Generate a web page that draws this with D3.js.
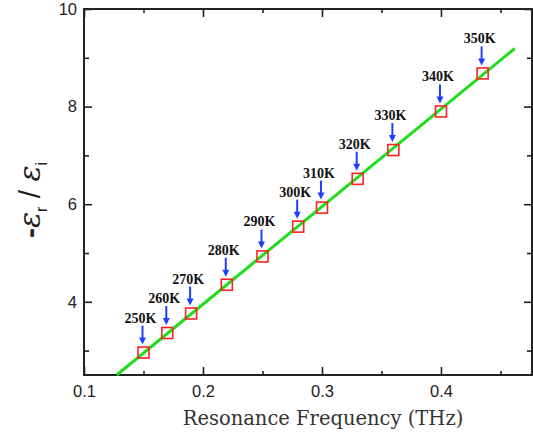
<!DOCTYPE html>
<html>
<head>
<meta charset="utf-8">
<script src="https://cdn.jsdelivr.net/npm/d3@7"></script>
<style>
  body { margin: 0; background: #fff; }
  svg { display: block; }
</style>
</head>
<body>
<div id="chart"></div>
<script>
// data
const temps = ["250K", "260K", "270K", "280K", "290K", "300K", "310K", "320K", "330K", "340K", "350K"];
const freq = [0.15, 0.17, 0.19, 0.22, 0.25, 0.28, 0.30, 0.33, 0.36, 0.40, 0.435];
const ratio = [2.96, 3.36, 3.76, 4.35, 4.93, 5.54, 5.93, 6.52, 7.11, 7.90, 8.68];
// linear fit line end points
const fitX = [0.1275, 0.462];
const fitY = [2.5, 9.19];

const xMajor = [0.1, 0.2, 0.3, 0.4];
const xMinor = [0.15, 0.25, 0.35, 0.45];
const yMajor = [4, 6, 8, 10];
const yMinor = [3, 5, 7, 9];

const width = 533;
const height = 438;
const margin = {left: 84, right: 1, top: 9, bottom: 63};

const svg = d3.select("#chart")
  .append("svg")
  .attr("width", width)
  .attr("height", height);

const x = d3.scaleLinear()
  .domain([0.1, 0.4765])
  .range([margin.left, width - margin.right]);

const y = d3.scaleLinear()
  .domain([2.5, 10])
  .range([height - margin.bottom, margin.top]);

const fontAxis = "'Liberation Sans', Arial, sans-serif";

// axes (ticks point inward)
function styleAxis(g) {
  g.select(".domain").remove();
  g.selectAll("line").attr("stroke", "#222").attr("stroke-width", 1.6);
  g.selectAll("text").attr("font-family", fontAxis).attr("font-size", 16.5).attr("fill", "#222");
}

svg.append("g")
  .attr("transform", `translate(0,${y.range()[0]})`)
  .call(d3.axisBottom(x).tickValues(xMajor).tickSize(-8).tickPadding(10).tickFormat(d3.format(".1f")))
  .call(styleAxis);
svg.append("g")
  .attr("transform", `translate(0,${y.range()[0]})`)
  .call(d3.axisBottom(x).tickValues(xMinor).tickSize(-4).tickFormat(""))
  .call(styleAxis);
svg.append("g")
  .attr("transform", `translate(0,${y.range()[1]})`)
  .call(d3.axisTop(x).tickValues(xMajor).tickSize(-8).tickFormat(""))
  .call(styleAxis);
svg.append("g")
  .attr("transform", `translate(0,${y.range()[1]})`)
  .call(d3.axisTop(x).tickValues(xMinor).tickSize(-4).tickFormat(""))
  .call(styleAxis);

svg.append("g")
  .attr("transform", `translate(${x.range()[0]},0)`)
  .call(d3.axisLeft(y).tickValues(yMajor).tickSize(-8).tickPadding(7))
  .call(styleAxis);
svg.append("g")
  .attr("transform", `translate(${x.range()[0]},0)`)
  .call(d3.axisLeft(y).tickValues(yMinor).tickSize(-5).tickFormat(""))
  .call(styleAxis);
svg.append("g")
  .attr("transform", `translate(${x.range()[1]},0)`)
  .call(d3.axisRight(y).tickValues(yMajor).tickSize(-8).tickFormat(""))
  .call(styleAxis);
svg.append("g")
  .attr("transform", `translate(${x.range()[1]},0)`)
  .call(d3.axisRight(y).tickValues(yMinor).tickSize(-5).tickFormat(""))
  .call(styleAxis);

// frame
svg.append("rect")
  .attr("x", x.range()[0])
  .attr("y", y.range()[1])
  .attr("width", x.range()[1] - x.range()[0])
  .attr("height", y.range()[0] - y.range()[1])
  .attr("fill", "none")
  .attr("stroke", "#222")
  .attr("stroke-width", 2);

// fit line
svg.append("line")
  .attr("x1", x(fitX[0])).attr("y1", y(fitY[0]))
  .attr("x2", x(fitX[1])).attr("y2", y(fitY[1]))
  .attr("stroke", "#1fdc1f")
  .attr("stroke-width", 3);

// data squares
const pts = d3.range(freq.length);
const sq = 11;
svg.selectAll(".pt")
  .data(pts)
  .enter()
  .append("rect")
    .attr("class", "pt")
    .attr("x", i => x(freq[i]) - sq / 2)
    .attr("y", i => y(ratio[i]) - sq / 2)
    .attr("width", sq)
    .attr("height", sq)
    .attr("fill", "none")
    .attr("stroke", "#ff2020")
    .attr("stroke-width", 1.6);

// arrows and temperature labels
const arrows = svg.append("g");
pts.forEach(i => {
  const px = x(freq[i]) - 1;
  const tip = y(ratio[i]) - 8;
  arrows.append("line")
    .attr("x1", px).attr("y1", tip - 19)
    .attr("x2", px).attr("y2", tip - 6)
    .attr("stroke", "#1f3fff")
    .attr("stroke-width", 2);
  arrows.append("path")
    .attr("d", `M${px - 3.5},${tip - 7}L${px + 3.5},${tip - 7}L${px},${tip}Z`)
    .attr("fill", "#1f3fff");
  arrows.append("text")
    .attr("x", px - 2)
    .attr("y", tip - 22)
    .attr("text-anchor", "middle")
    .attr("font-family", "'Liberation Serif', 'Times New Roman', serif")
    .attr("font-weight", "bold")
    .attr("font-size", 14)
    .attr("fill", "#111")
    .text(temps[i]);
});

// x title
svg.append("text")
  .attr("x", 323)
  .attr("y", 425)
  .attr("text-anchor", "middle")
  .attr("font-family", "'DejaVu Serif', serif")
  .attr("font-size", 19.5)
  .attr("fill", "#333")
  .text("Resonance Frequency (THz)");

// y title
const yt = svg.append("text")
  .attr("transform", "translate(40,200) rotate(-90)")
  .attr("text-anchor", "middle")
  .attr("font-family", fontAxis)
  .attr("font-size", 30)
  .attr("fill", "#222");
yt.append("tspan").attr("font-weight", "bold").text("-");
yt.append("tspan").attr("font-style", "italic").attr("font-family", "'DejaVu Serif', serif").text("ε");
yt.append("tspan").attr("font-size", 16).attr("dy", 7).text("r");
yt.append("tspan").attr("dy", -7).text(" / ");
yt.append("tspan").attr("font-style", "italic").attr("font-family", "'DejaVu Serif', serif").text("ε");
yt.append("tspan").attr("font-size", 16).attr("dy", 7).text("i");
</script>
</body>
</html>
